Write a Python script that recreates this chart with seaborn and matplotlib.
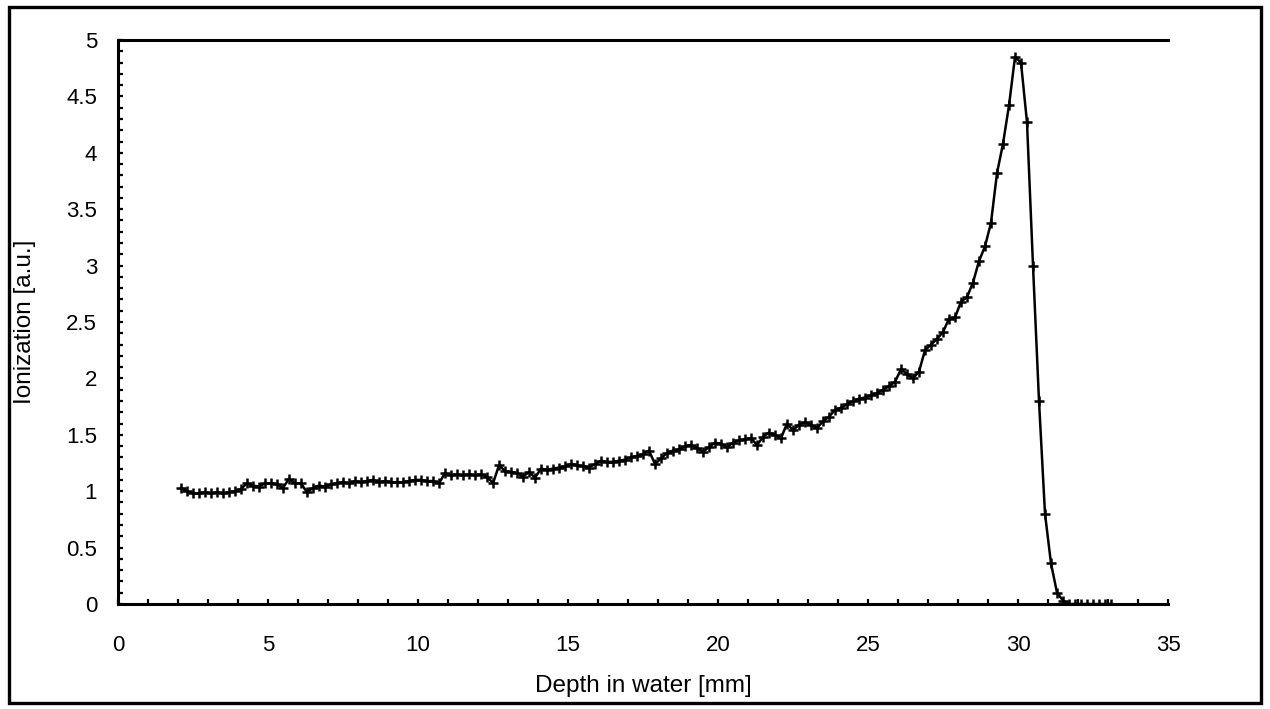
import numpy as np
import pandas as pd
import matplotlib
matplotlib.use("Agg")
import matplotlib.pyplot as plt
from matplotlib.patches import Rectangle
from matplotlib.ticker import MultipleLocator
import seaborn as sns

depth_mm = [
    2.1, 2.3, 2.5, 2.7, 2.9, 3.1, 3.3, 3.5, 3.7, 3.9,
    4.1, 4.3, 4.5, 4.7, 4.9, 5.1, 5.3, 5.5, 5.7, 5.9,
    6.1, 6.3, 6.5, 6.7, 6.9, 7.1, 7.3, 7.5, 7.7, 7.9,
    8.1, 8.3, 8.5, 8.7, 8.9, 9.1, 9.3, 9.5, 9.7, 9.9,
    10.1, 10.3, 10.5, 10.7, 10.9, 11.1, 11.3, 11.5, 11.7, 11.9,
    12.1, 12.3, 12.5, 12.7, 12.9, 13.1, 13.3, 13.5, 13.7, 13.9,
    14.1, 14.3, 14.5, 14.7, 14.9, 15.1, 15.3, 15.5, 15.7, 15.9,
    16.1, 16.3, 16.5, 16.7, 16.9, 17.1, 17.3, 17.5, 17.7, 17.9,
    18.1, 18.3, 18.5, 18.7, 18.9, 19.1, 19.3, 19.5, 19.7, 19.9,
    20.1, 20.3, 20.5, 20.7, 20.9, 21.1, 21.3, 21.5, 21.7, 21.9,
    22.1, 22.3, 22.5, 22.7, 22.9, 23.1, 23.3, 23.5, 23.7, 23.9,
    24.1, 24.3, 24.5, 24.7, 24.9, 25.1, 25.3, 25.5, 25.7, 25.9,
    26.1, 26.3, 26.5, 26.7, 26.9, 27.1, 27.3, 27.5, 27.7, 27.9,
    28.1, 28.3, 28.5, 28.7, 28.9, 29.1, 29.3, 29.5, 29.7, 29.9,
    30.1, 30.3, 30.5, 30.7, 30.9, 31.1, 31.3, 31.5, 31.7, 31.9,
    32.1, 32.3, 32.5, 32.7, 32.9, 33.1,
]

ionization = [
    1.03, 1.00, 0.98, 0.98, 0.99, 0.98, 0.99, 0.98, 0.99, 1.00,
    1.02, 1.07, 1.05, 1.04, 1.07, 1.07, 1.06, 1.03, 1.11, 1.07,
    1.07, 0.99, 1.03, 1.05, 1.04, 1.06, 1.07, 1.08, 1.07, 1.09,
    1.08, 1.09, 1.10, 1.08, 1.09, 1.08, 1.08, 1.08, 1.09, 1.10,
    1.10, 1.09, 1.09, 1.07, 1.16, 1.14, 1.15, 1.14, 1.15, 1.14,
    1.15, 1.13, 1.07, 1.23, 1.18, 1.17, 1.16, 1.13, 1.17, 1.12,
    1.20, 1.19, 1.20, 1.21, 1.22, 1.24, 1.23, 1.22, 1.21, 1.24,
    1.27, 1.26, 1.26, 1.27, 1.28, 1.30, 1.31, 1.33, 1.36, 1.24,
    1.29, 1.34, 1.36, 1.37, 1.40, 1.41, 1.38, 1.35, 1.39, 1.43,
    1.42, 1.39, 1.43, 1.45, 1.46, 1.47, 1.41, 1.48, 1.52, 1.50,
    1.47, 1.60, 1.54, 1.59, 1.61, 1.59, 1.56, 1.62, 1.66, 1.72,
    1.74, 1.77, 1.80, 1.82, 1.83, 1.85, 1.87, 1.90, 1.93, 1.97,
    2.08, 2.04, 2.00, 2.06, 2.25, 2.30, 2.35, 2.41, 2.53, 2.54,
    2.68, 2.72, 2.85, 3.04, 3.17, 3.38, 3.82, 4.08, 4.42, 4.85,
    4.80, 4.27, 3.00, 1.80, 0.80, 0.36, 0.10, 0.03, 0.00, 0.00,
    0.00, 0.00, 0.00, 0.00, 0.00, 0.00,
]

x_ticks = [0, 5, 10, 15, 20, 25, 30, 35]
y_ticks = [0, 0.5, 1, 1.5, 2, 2.5, 3, 3.5, 4, 4.5, 5]
y_tick_labels = ["0", "0.5", "1", "1.5", "2", "2.5", "3", "3.5", "4", "4.5", "5"]
x_label = "Depth in water [mm]"
y_label = "Ionization [a.u.]"

df = pd.DataFrame({"depth": depth_mm, "ion": ionization})

sns.set_style("white")
plt.rcParams["font.family"] = ["Liberation Sans", "DejaVu Sans"]

fig = plt.figure(figsize=(12.7, 7.09), dpi=100)
ax = fig.add_axes([118 / 1270, 1 - 604 / 709, 1050 / 1270, 564 / 709])

sns.lineplot(data=df, x="depth", y="ion", ax=ax, color="black", linewidth=1.8,
             marker="+", markersize=7, markeredgewidth=1.8, markeredgecolor="black")

ax.set_xlim(0, 35)
ax.set_ylim(0, 5)
ax.set_xticks(x_ticks)
ax.set_xticklabels([str(t) for t in x_ticks])
ax.set_yticks(y_ticks)
ax.set_yticklabels(y_tick_labels)
ax.xaxis.set_minor_locator(MultipleLocator(1))
ax.yaxis.set_minor_locator(MultipleLocator(0.1))

ax.tick_params(axis="both", which="both", direction="in", length=3.5, width=1.6,
               color="black", labelsize=16, labelcolor="black",
               bottom=True, left=True, top=False, right=False)
ax.tick_params(axis="x", which="major", pad=22)
ax.tick_params(axis="y", which="major", pad=15)

for side in ["left", "bottom", "top"]:
    ax.spines[side].set_visible(True)
    ax.spines[side].set_color("black")
    ax.spines[side].set_linewidth(2.2)
ax.spines["right"].set_visible(False)

ax.set_xlabel(x_label, fontsize=17.5, color="black")
ax.set_ylabel(y_label, fontsize=17.5, color="black")
ax.xaxis.label.set_va("center")
ax.yaxis.label.set_va("center")
ax.xaxis.set_label_coords(0.5, -(686 - 604) / 564)
ax.yaxis.set_label_coords(-(118 - 25) / 1050, 0.5)

frame = Rectangle((9 / 1270, 1 - 703 / 709), 1252 / 1270, 696 / 709,
                  transform=fig.transFigure, fill=False, edgecolor="black",
                  linewidth=2.4, clip_on=False)
fig.patches.append(frame)

fig.savefig("out.png", dpi=100, facecolor="white")
